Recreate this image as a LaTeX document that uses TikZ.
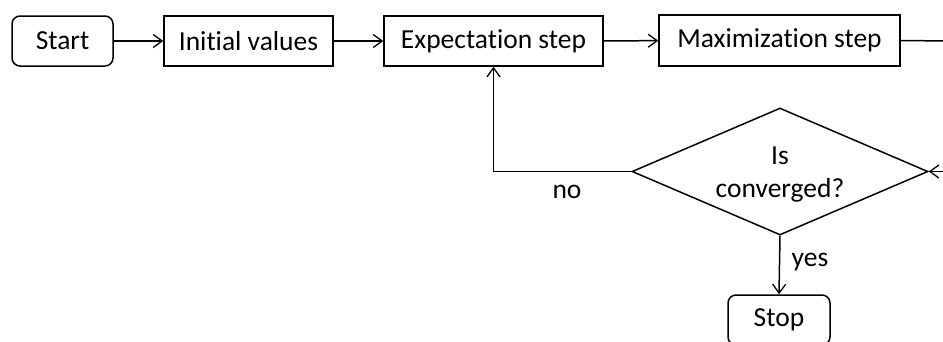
\documentclass[tikz,border=0pt]{standalone}
\usepackage{fontspec}
\setmainfont[Ligatures=NoCommon]{Carlito}
\usetikzlibrary{arrows.meta,shapes.geometric}

\tikzset{
  box/.style={draw, line width=1.5pt, inner sep=0pt, minimum height=50pt},
  roundbox/.style={box, rounded corners=8pt},
  decision/.style={draw, line width=1.5pt, diamond, inner sep=0pt,
    minimum width=296pt, minimum height=127pt},
  flow/.style={line width=1.5pt, -{Straight Barb[length=9pt,width=13pt,line width=1.3pt]}},
  plain/.style={line width=1.5pt},
  lbl/.style={inner sep=0pt, align=center}
}

\begin{document}
\begin{tikzpicture}[x=1pt, y=-1pt, font=\fontsize{27.5}{33}\selectfont]
  \useasboundingbox (0,0) rectangle (943,341);
  \clip (0,0) rectangle (943,341);
  \fill[white] (0,0) rectangle (943,341);

  % main row of steps
  \node[roundbox, minimum width=101pt] (start) at (62.5,41) {Start};
  \node[box, minimum width=169pt] (init) at (248.5,41) {Initial values};
  \node[box, minimum width=219pt] (estep) at (493.5,41) {Expectation step};
  \node[box, minimum width=241pt, minimum height=51pt] (mstep) at (779.5,40.5) {Maximization step};

  % convergence test and end
  \node[decision] (conv) at (780,171.5) {};
  \node[lbl] (convtext) at (780,175) {Is\\converged?};
  \node[roundbox, minimum width=102pt] (stop) at (779,320) {Stop};

  % loop continues beyond the right border
  \coordinate (outr) at (950,41);
  \coordinate (inr) at (950,171.5);
  \coordinate (back) at (estep.south |- conv.west);

  \draw[flow] (start) -- (init);
  \draw[flow] (init) -- (estep);
  \draw[flow] (estep) -- (mstep);
  \draw[plain] (mstep.east) -- (outr);
  \draw[flow] (inr) -- (conv.east);
  \draw[flow] (conv.west) -- (back) -- (estep.south);
  \draw[flow] (conv.south) -- (stop.north);

  \node[lbl, anchor=base] (nolbl) at (567,198) {no};
  \node[lbl, anchor=base] (yeslbl) at (810,266) {yes};
\end{tikzpicture}
\end{document}
